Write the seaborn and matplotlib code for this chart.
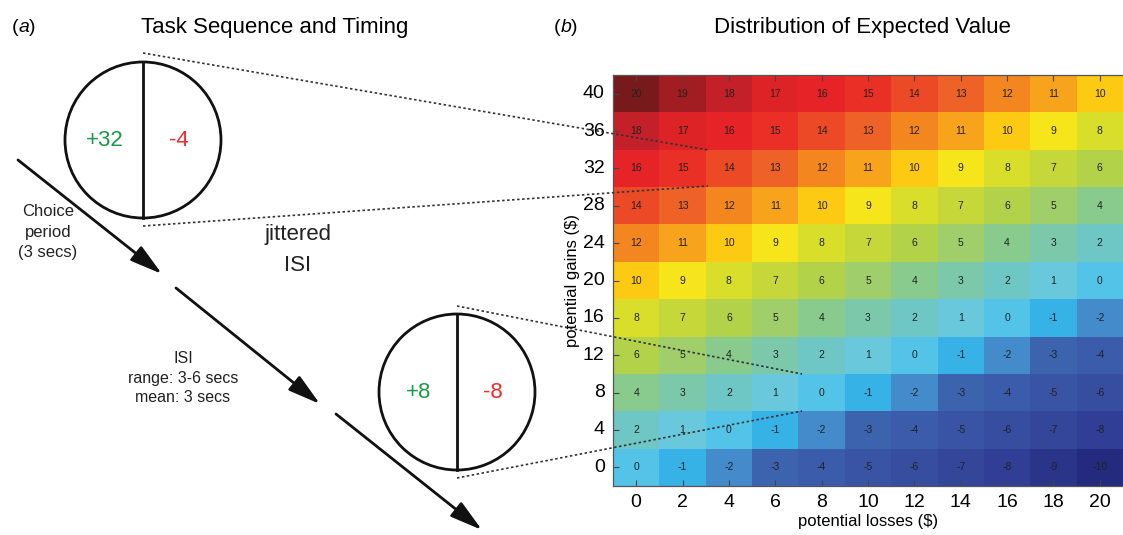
import numpy as np
import pandas as pd
import matplotlib
matplotlib.use("Agg")
import matplotlib.pyplot as plt
import seaborn as sns
from matplotlib.colors import LinearSegmentedColormap
from matplotlib.patches import Circle

# heatmap axes: potential losses (columns) and potential gains (rows, top to bottom)
losses = [0, 2, 4, 6, 8, 10, 12, 14, 16, 18, 20]
gains = [40, 36, 32, 28, 24, 20, 16, 12, 8, 4, 0]

# expected value for each gain/loss pair
ev_gain_40 = [20, 19, 18, 17, 16, 15, 14, 13, 12, 11, 10]
ev_gain_36 = [18, 17, 16, 15, 14, 13, 12, 11, 10, 9, 8]
ev_gain_32 = [16, 15, 14, 13, 12, 11, 10, 9, 8, 7, 6]
ev_gain_28 = [14, 13, 12, 11, 10, 9, 8, 7, 6, 5, 4]
ev_gain_24 = [12, 11, 10, 9, 8, 7, 6, 5, 4, 3, 2]
ev_gain_20 = [10, 9, 8, 7, 6, 5, 4, 3, 2, 1, 0]
ev_gain_16 = [8, 7, 6, 5, 4, 3, 2, 1, 0, -1, -2]
ev_gain_12 = [6, 5, 4, 3, 2, 1, 0, -1, -2, -3, -4]
ev_gain_8 = [4, 3, 2, 1, 0, -1, -2, -3, -4, -5, -6]
ev_gain_4 = [2, 1, 0, -1, -2, -3, -4, -5, -6, -7, -8]
ev_gain_0 = [0, -1, -2, -3, -4, -5, -6, -7, -8, -9, -10]

# example trials shown in the schematic
trial_1 = ("+32", "-4")
trial_2 = ("+8", "-8")

ev = pd.DataFrame(
    [ev_gain_40, ev_gain_36, ev_gain_32, ev_gain_28, ev_gain_24, ev_gain_20,
     ev_gain_16, ev_gain_12, ev_gain_8, ev_gain_4, ev_gain_0],
    index=gains, columns=losses)

plt.rcParams['font.family'] = ['Liberation Sans', 'DejaVu Sans']

# soft jet-like map, -10 (navy) .. 20 (maroon)
anchors = [
    (-10, '#242a7e'), (-8, '#303f95'), (-5, '#3a54a5'), (-3, '#3b63ae'),
    (-2, '#438bca'), (-1, '#36b4e8'), (0, '#53c3e8'), (1, '#6bc8dc'),
    (2, '#6ec7c4'), (4, '#89ca8d'), (6, '#b2d24a'), (8, '#d8de2a'),
    (9, '#f7e71c'), (10, '#fcc913'), (11, '#f8a51c'), (12, '#f3861f'),
    (13, '#ee6328'), (14, '#ec4a27'), (15, '#e93026'), (16, '#e62326'),
    (17, '#e02326'), (18, '#c3202a'), (19, '#a51d22'), (20, '#781a1c'),
]
vmin, vmax = -10, 20
cmap = LinearSegmentedColormap.from_list(
    'ev', [((v - vmin) / (vmax - vmin), c) for v, c in anchors])

W, H = 1123, 535
fig = plt.figure(figsize=(W / 100, H / 100), dpi=100)

# --- (b) heatmap ---
ax = fig.add_axes([613 / W, 1 - 486 / H, 510 / W, 411 / H])
sns.heatmap(ev, ax=ax, cmap=cmap, vmin=vmin, vmax=vmax, cbar=False,
            annot=True, fmt='d',
            annot_kws={'size': 7.5, 'color': '#222222'})
ax.set_xlabel(r'potential losses (\$)', fontsize=12, labelpad=2)
ax.set_ylabel(r'potential gains (\$)', fontsize=12, labelpad=2)
ax.tick_params(axis='both', labelsize=14, direction='in', length=4,
               color='#444444', width=0.8, pad=6)
ax.tick_params(axis='x', top=True)
ax.set_yticklabels(gains, rotation=0)
ax.set_xticklabels(losses, rotation=0)
for side in ['left', 'bottom', 'top']:
    ax.spines[side].set_visible(True)
    ax.spines[side].set_color('#555555')
    ax.spines[side].set_linewidth(0.9)

# --- (a) schematic, drawn in figure pixel coordinates on an overlay ---
ov = fig.add_axes([0, 0, 1, 1], zorder=10)
ov.set_xlim(0, W)
ov.set_ylim(H, 0)
ov.axis('off')
ov.patch.set_visible(False)

ov.text(12, 28, '(', fontsize=14, va='center', ha='left')
ov.text(19, 28, 'a', fontsize=14, va='center', ha='left', style='italic')
ov.text(29, 28, ')', fontsize=14, va='center', ha='left')
ov.text(275, 28, 'Task Sequence and Timing', fontsize=16, ha='center', va='center')
ov.text(554, 28, '(', fontsize=14, va='center', ha='left')
ov.text(561, 28, 'b', fontsize=14, va='center', ha='left', style='italic')
ov.text(571, 28, ')', fontsize=14, va='center', ha='left')
ov.text(862, 28, 'Distribution of Expected Value', fontsize=16, ha='center', va='center')

for (cx, cy, r), (g, l) in [((143, 140, 78), trial_1), ((457, 392, 78), trial_2)]:
    ov.add_patch(Circle((cx, cy), r, fill=False, lw=2, ec='#111111'))
    ov.plot([cx, cx], [cy - r, cy + r], color='#111111', lw=2)
    ov.text(cx - 38, cy, g, color='#1a9a45', fontsize=16, ha='center', va='center')
    ov.text(cx + 36, cy, l, color='#ee2a2a', fontsize=16, ha='center', va='center')

# zoom lines from the trial circles into the matrix
dot = dict(color='#333333', lw=1.2, ls=(0, (1.5, 1.5)))
ov.plot([143, 708], [53, 150], **dot)
ov.plot([143, 708], [226, 186], **dot)
ov.plot([457, 802], [306, 374], **dot)
ov.plot([457, 802], [478, 411], **dot)

arrow = dict(arrowstyle='-|>,head_length=0.9,head_width=0.25', color='#111111',
             lw=2, mutation_scale=22, shrinkA=0, shrinkB=0)
ov.annotate('', xy=(162, 274), xytext=(18, 160), arrowprops=arrow)
ov.annotate('', xy=(320, 404), xytext=(176, 288), arrowprops=arrow)
ov.annotate('', xy=(482, 530), xytext=(336, 414), arrowprops=arrow)

ov.text(48, 232, 'Choice\nperiod\n(3 secs)', fontsize=12, ha='center', va='center',
        linespacing=1.5, color='#222222')
ov.text(298, 250, 'jittered\nISI', fontsize=16, ha='center', va='center',
        linespacing=1.6, color='#222222')
ov.text(183, 378, 'ISI\nrange: 3-6 secs\nmean: 3 secs', fontsize=11.5,
        ha='center', va='center', linespacing=1.4, color='#222222')

fig.savefig('out.png', dpi=100)
